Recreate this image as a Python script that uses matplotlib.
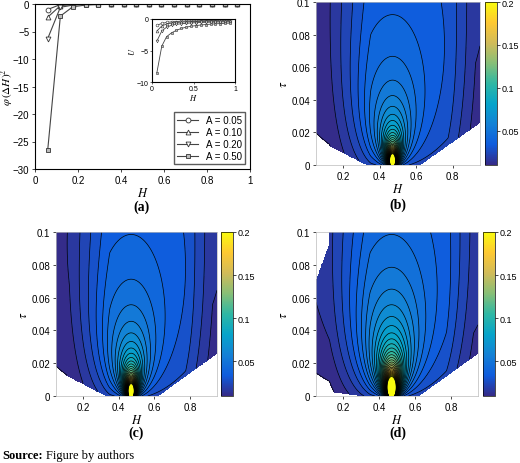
import numpy as np
import matplotlib
matplotlib.use('Agg')
import matplotlib.pyplot as plt
from matplotlib.colors import LinearSegmentedColormap

plt.rcParams.update({'font.family': 'Liberation Sans', 'font.size': 7,
                     'mathtext.fontset': 'stix'})

# ---- panel (a) data ----
H_pts = [0.059, 0.118, 0.176, 0.235, 0.294, 0.353, 0.412, 0.471, 0.529,
         0.588, 0.647, 0.706, 0.765, 0.824, 0.882, 0.941]
phi_005 = [-1.0, -0.1, -0.03, -0.01, 0, 0, 0, 0, 0, 0, 0, 0, 0, 0, 0, 0]
phi_010 = [-2.4, -0.3, -0.1, -0.04, -0.02, -0.01, 0, 0, 0, 0, 0, 0, 0, 0, 0, 0]
phi_020 = [-6.3, -0.6, -0.2, -0.08, -0.04, -0.02, -0.01, 0, 0, 0, 0, 0, 0, 0, 0, 0]
phi_050 = [-26.6, -2.2, -0.5, -0.2, -0.1, -0.06, -0.04, -0.03, -0.02, -0.01,
           -0.01, 0, 0, 0, 0, 0]
series_labels = ['A = 0.05', 'A = 0.10', 'A = 0.20', 'A = 0.50']
markers = ['o', '^', 'v', 's']

# inset U
U_005 = [-1.0, -0.7, -0.55, -0.45, -0.4, -0.35, -0.32, -0.3, -0.28, -0.27,
         -0.26, -0.25, -0.24, -0.23, -0.22, -0.22]
U_010 = [-1.9, -1.1, -0.8, -0.65, -0.55, -0.5, -0.45, -0.42, -0.4, -0.38,
         -0.36, -0.35, -0.34, -0.33, -0.32, -0.31]
U_020 = [-3.5, -1.9, -1.3, -1.0, -0.85, -0.75, -0.68, -0.62, -0.58, -0.55,
         -0.52, -0.5, -0.48, -0.46, -0.45, -0.44]
U_050 = [-8.5, -4.3, -2.8, -2.2, -1.8, -1.5, -1.3, -1.15, -1.05, -0.95,
         -0.88, -0.82, -0.77, -0.72, -0.68, -0.65]

# ---- contour panels: peak strength, background level and masking edges ----
peak_H = 0.47
x_scale = 3.8
strength = {'b': 0.0015, 'c': 0.0016, 'd': 0.0024}
background = {'b': 0.022, 'c': 0.022, 'd': 0.020}
left_edge = {'b': (0.016, 0.33), 'c': (0.016, 0.33), 'd': (0.004, 0.30)}
right_edge = {'b': (0.026, 0.62), 'c': (0.026, 0.62), 'd': (0.026, 0.62)}

parula = LinearSegmentedColormap.from_list('parula', [
    '#352a87', '#0f5cdd', '#1481d6', '#06a4ca', '#2eb7a4', '#87bf77',
    '#d1bb59', '#fec832', '#f9fb0e'])

fig = plt.figure(figsize=(5.2, 4.64), dpi=100)
W, Hh = 520, 464


def rect(x0, y0, x1, y1):
    return [x0 / W, 1 - y1 / Hh, (x1 - x0) / W, (y1 - y0) / Hh]


serif = {'family': 'Liberation Serif'}

# ---- (a) ----
ax = fig.add_axes(rect(35, 5, 250, 170))
for ys, m, lab in zip([phi_005, phi_010, phi_020, phi_050], markers, series_labels):
    ax.plot(H_pts, ys, color='#444444', lw=0.8, marker=m, ms=3.5,
            mfc='white' if m != 's' else '#bbbbbb', mec='#333333', mew=0.6, label=lab)
ax.set_xlim(0, 1)
ax.set_ylim(-30, 0)
ax.set_xticks(np.arange(0, 1.01, 0.2))
ax.set_xticklabels(['0', '0.2', '0.4', '0.6', '0.8', '1'])
ax.set_xlabel('$H$', fontsize=9, labelpad=1)
ax.set_ylabel(r'$\varphi\,(\Delta H)^2$', fontsize=8, labelpad=-2)
ax.tick_params(length=2, width=0.5, pad=2)
ax.legend(loc='lower right', fontsize=7, handlelength=2.2, borderpad=0.3,
          labelspacing=0.2, fancybox=False, edgecolor='#333333')
ins = fig.add_axes(rect(152, 20, 235, 83))
for ys, m in zip([U_005, U_010, U_020, U_050], markers):
    ins.plot(H_pts, ys, color='#444444', lw=0.6, marker=m, ms=2,
             mfc='white' if m != 's' else '#bbbbbb', mec='#333333', mew=0.4)
ins.set_xlim(0, 1)
ins.set_ylim(-10, 0)
ins.set_xticks([0, 0.5, 1])
ins.set_xticklabels(['0', '0.5', '1'])
ins.set_yticks([-10, -5, 0])
ins.tick_params(labelsize=5, length=1.5, width=0.4, pad=1)
ins.set_xlabel('$H$', fontsize=6, labelpad=0)
ins.set_ylabel('$U$', fontsize=6, labelpad=0)
fig.text(142 / W, 1 - 207 / Hh, '(a)', ha='center', va='center',
         fontsize=10, fontweight='bold', **serif)

# ---- contour panels ----
Hg = np.linspace(0.05, 0.95, 300)
Tg = np.linspace(0, 0.1, 300)
HH, TT = np.meshgrid(Hg, Tg)
levels = list(np.arange(0.008, 0.2001, 0.006)) + [10]


def contour_panel(key, box, cbox, lab_xy):
    axc = fig.add_axes(rect(*box))
    xs = (HH - peak_H) / x_scale
    y = TT + 0.0015
    ramp = np.clip((HH - 0.05) / 0.3, 0.25, 1) * np.clip((0.95 - HH) / 0.25 + 0.3, 0.4, 1)
    F = background[key] * ramp + strength[key] * y / (xs ** 2 + y ** 2)
    lt, lh = left_edge[key]
    rt, rh = right_edge[key]
    mask = (TT < lt * (lh - HH) / (lh - 0.05)) | (TT < rt * (HH - rh) / (0.95 - rh))
    if key == 'd':
        mask |= (TT > 0.07 + 0.3 * (HH - 0.05)) & (HH < 0.12)
    F = np.ma.array(F, mask=mask)
    axc.contourf(HH, TT, F, levels=levels, cmap=parula, vmin=0.01, vmax=0.2)
    axc.contour(HH, TT, F, levels=levels[:-1], colors='black', linewidths=0.5)
    axc.set_xlim(0.05, 0.95)
    axc.set_ylim(0, 0.1)
    axc.set_xticks([0.2, 0.4, 0.6, 0.8])
    axc.set_yticks([0, 0.02, 0.04, 0.06, 0.08, 0.1])
    axc.set_yticklabels(['0', '0.02', '0.04', '0.06', '0.08', '0.1'])
    axc.tick_params(length=2, width=0.5, pad=2)
    axc.set_xlabel('$H$', fontsize=9, labelpad=1)
    axc.set_ylabel(r'$\tau$', fontsize=9, labelpad=1)
    for s in axc.spines.values():
        s.set_color('#bbbbbb')
        s.set_linewidth(0.5)
    cax = fig.add_axes(rect(*cbox))
    sm = plt.cm.ScalarMappable(cmap=parula, norm=plt.Normalize(0.01, 0.2))
    cb = fig.colorbar(sm, cax=cax, ticks=[0.05, 0.1, 0.15, 0.2])
    cb.ax.set_yticklabels(['0.05', '0.1', '0.15', '0.2'])
    cb.ax.tick_params(length=2, width=0.5, pad=1.5, labelsize=6.5)
    cb.outline.set_linewidth(0.5)
    fig.text(lab_xy[0] / W, 1 - lab_xy[1] / Hh, '(%s)' % key, ha='center',
             va='center', fontsize=10, fontweight='bold', **serif)


contour_panel('b', (316, 3, 480, 166), (485, 3, 497, 166), (398, 205))
contour_panel('c', (56, 233, 217, 397), (221, 233, 233, 397), (136, 433))
contour_panel('d', (316, 233, 478, 397), (483, 233, 495, 397), (398, 433))

fig.text(2 / W, 1 - 456 / Hh, 'Source:', fontsize=9, fontweight='bold',
         va='center', **serif)
fig.text(46 / W, 1 - 456 / Hh, 'Figure by authors', fontsize=9, va='center', **serif)

fig.savefig('out.png', dpi=100, facecolor='white')
